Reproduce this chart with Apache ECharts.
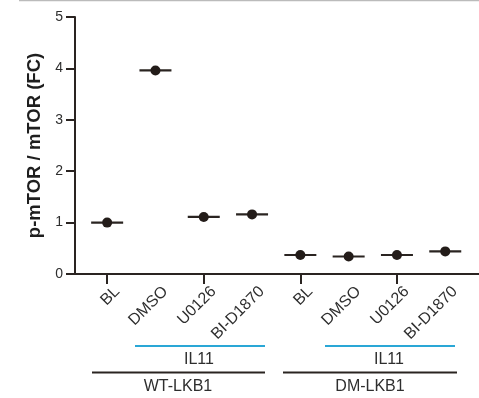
<!DOCTYPE html>
<html>
<head>
<meta charset="utf-8">
<script src="https://cdn.jsdelivr.net/npm/echarts@6/dist/echarts.min.js"></script>
<style>
  html, body { margin: 0; padding: 0; background: #fff; }
  #chart { width: 479px; height: 398px; }
</style>
</head>
<body>
<div id="chart"></div>
<script>
// conditions on the x axis
const categories = ['BL', 'DMSO', 'U0126', 'BI-D1870', 'BL', 'DMSO', 'U0126', 'BI-D1870'];
// p-mTOR / mTOR fold change
const values = [1.0, 3.96, 1.11, 1.16, 0.37, 0.34, 0.37, 0.44];
const yTicks = [0, 1, 2, 3, 4, 5];

const axisColor = '#2a2421';
const textColor = '#2e2e2e';
const font = 'Liberation Sans, Arial, sans-serif';

let chart = echarts.init(document.getElementById('chart'), null, { renderer: 'canvas' });

let option = {
    animation: false,
    backgroundColor: '#fff',
    grid: [
        // axis frame (lines run past the first/last category)
        { left: 75, right: 0, top: 17, bottom: 124 },
        // data area
        { left: 83, width: 386.4, top: 17, bottom: 124 },
        // label row, nudged right like the original
        { left: 93, width: 386.4, top: 17, bottom: 124 }
    ],
    xAxis: [
        {
            gridIndex: 0, type: 'value', min: 0, max: 1,
            axisLine: { show: true, lineStyle: { color: axisColor, width: 2 } },
            axisTick: { show: false }, axisLabel: { show: false }, splitLine: { show: false }
        },
        {
            gridIndex: 1, type: 'category', data: categories, boundaryGap: true,
            axisLine: { show: false },
            axisTick: { show: true, alignWithLabel: true, length: 10, lineStyle: { color: axisColor, width: 2 } },
            axisLabel: { show: false },
            splitLine: { show: false }
        },
        {
            gridIndex: 2, type: 'category', data: categories, boundaryGap: true,
            axisLine: { show: false }, axisTick: { show: false },
            axisLabel: {
                rotate: 45, margin: 15, color: textColor, fontSize: 16, fontFamily: font,
                interval: 0
            },
            splitLine: { show: false }
        }
    ],
    yAxis: [
        {
            gridIndex: 0, type: 'value', min: yTicks[0], max: yTicks[yTicks.length - 1], interval: 1,
            name: 'p-mTOR / mTOR (FC)', nameLocation: 'middle', nameGap: 28,
            nameTextStyle: { color: '#1e1e1e', fontSize: 18.5, fontWeight: 'bold', fontFamily: font },
            axisLine: { show: true, lineStyle: { color: axisColor, width: 2 } },
            axisTick: { show: true, length: 9, lineStyle: { color: axisColor, width: 2 } },
            axisLabel: { color: textColor, fontSize: 14, margin: 12, fontFamily: font },
            splitLine: { show: false }
        },
        { gridIndex: 1, type: 'value', min: 0, max: 5, show: false },
        { gridIndex: 2, type: 'value', min: 0, max: 5, show: false }
    ],
    series: [
        {
            // median bars
            type: 'scatter', xAxisIndex: 1, yAxisIndex: 1,
            symbol: 'rect', symbolSize: [32, 2.2],
            itemStyle: { color: axisColor, opacity: 1 },
            data: values, z: 2
        },
        {
            type: 'scatter', xAxisIndex: 1, yAxisIndex: 1,
            symbol: 'circle', symbolSize: 10,
            itemStyle: { color: '#231c19', opacity: 1 },
            data: values, z: 3
        }
    ],
    graphic: [
        { type: 'line', shape: { x1: 19, y1: 0.5, x2: 479, y2: 0.5 }, style: { stroke: '#bbb', lineWidth: 1.5 } },
        // WT-LKB1 group
        { type: 'line', shape: { x1: 135, y1: 346, x2: 265, y2: 346 }, style: { stroke: '#2aa7d6', lineWidth: 2 } },
        { type: 'text', x: 199, y: 360, style: { text: 'IL11', fill: textColor, font: '16px ' + font, align: 'center', verticalAlign: 'middle' } },
        { type: 'line', shape: { x1: 92, y1: 372.5, x2: 265, y2: 372.5 }, style: { stroke: axisColor, lineWidth: 2 } },
        { type: 'text', x: 178, y: 387, style: { text: 'WT-LKB1', fill: textColor, font: '16px ' + font, align: 'center', verticalAlign: 'middle' } },
        // DM-LKB1 group
        { type: 'line', shape: { x1: 325, y1: 346, x2: 455, y2: 346 }, style: { stroke: '#2aa7d6', lineWidth: 2 } },
        { type: 'text', x: 389, y: 360, style: { text: 'IL11', fill: textColor, font: '16px ' + font, align: 'center', verticalAlign: 'middle' } },
        { type: 'line', shape: { x1: 283, y1: 372.5, x2: 457, y2: 372.5 }, style: { stroke: axisColor, lineWidth: 2 } },
        { type: 'text', x: 370, y: 387, style: { text: 'DM-LKB1', fill: textColor, font: '16px ' + font, align: 'center', verticalAlign: 'middle' } }
    ]
};

chart.setOption(option);
</script>
</body>
</html>
